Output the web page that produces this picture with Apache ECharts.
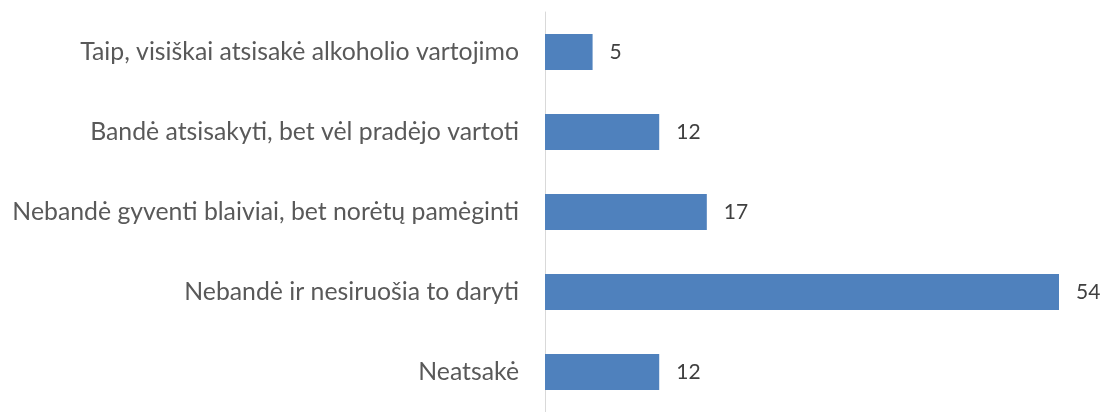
<!DOCTYPE html>
<html>
<head>
<meta charset="utf-8">
<script src="https://cdn.jsdelivr.net/npm/echarts@6/dist/echarts.min.js"></script>
<style>
  html, body { margin: 0; padding: 0; background: #fff; }
  #chart { width: 1100px; height: 412px; }
</style>
</head>
<body>
<div id="chart"></div>
<script>
// kategorijos (iš viršaus į apačią)
const categories = [
  'Taip, visiškai atsisakė alkoholio vartojimo',
  'Bandė atsisakyti, bet vėl pradėjo vartoti',
  'Nebandė gyventi blaiviai, bet norėtų pamėginti',
  'Nebandė ir nesiruošia to daryti',
  'Neatsakė'
]
const values = [5, 12, 17, 54, 12]

const chart = echarts.init(document.getElementById('chart'), null, { renderer: 'canvas' })

const option = {
  animation: false,
  grid: {
    left: 545,
    right: 41,
    top: 12,
    bottom: -8,
    containLabel: false
  },
  xAxis: {
    type: 'value',
    min: 0,
    max: 54,
    show: false
  },
  yAxis: {
    type: 'category',
    inverse: true,
    data: categories,
    axisLine: { show: true, lineStyle: { color: '#d9d9d9', width: 1 } },
    axisTick: { show: false },
    axisLabel: {
      margin: 26,
      color: '#595959',
      fontFamily: 'Lato',
      fontSize: 24.8
    }
  },
  series: [{
    type: 'bar',
    data: values,
    barWidth: 36,
    itemStyle: { color: '#4f81bd' },
    label: {
      show: true,
      position: 'right',
      distance: 17,
      color: '#404040',
      fontFamily: 'Lato',
      fontSize: 21
    }
  }]
}
chart.setOption(option)
</script>
</body>
</html>
